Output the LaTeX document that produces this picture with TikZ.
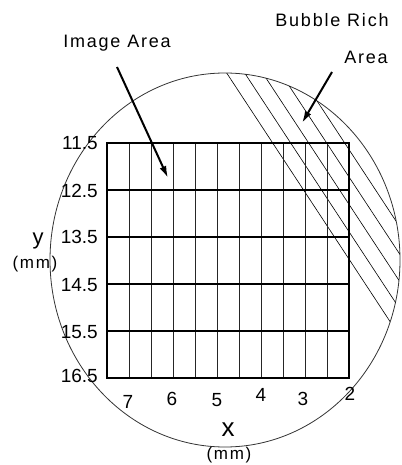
\documentclass[tikz,border=0pt]{standalone}
\usepackage{fontspec}
\setmainfont{Liberation Sans}
\newfontfamily\spacedfont{Liberation Sans}[LetterSpace=10]
\usetikzlibrary{arrows.meta}

\begin{document}
\begin{tikzpicture}[
  x=1pt,y=-1pt,
  every node/.style={inner sep=0pt},
  caption/.style={font=\spacedfont\fontsize{18}{20}\selectfont,anchor=base},
  ticklabel/.style={font=\fontsize{19}{21}\selectfont},
  axisname/.style={font=\fontsize{22}{24}\selectfont},
  unitlabel/.style={font=\spacedfont\fontsize{17}{20}\selectfont},
  wafer/.style={line width=0.8pt,black!80},
  gridline/.style={line width=0.7pt,black!85},
  rowline/.style={line width=1.3pt},
  hatch/.style={line width=0.6pt},
  pointer/.style={-{Latex[length=12pt,width=7pt]},line width=2pt}
]
\useasboundingbox (0,0) rectangle (401,465);

% Wafer outline
\draw[wafer] (225,260) ellipse [x radius=175pt,y radius=187pt];

% --- Bubble rich hatching ---
\begin{scope}
  \clip (225,260) ellipse [x radius=175pt,y radius=187pt];
  \foreach \k in {0,...,4}
    \draw[hatch] ({157+18*\k},-33) -- ({437+18*\k},393);
\end{scope}

% --- Image area grid ---
\foreach \gx in {129,151,...,327}
  \draw[gridline] (\gx,143) -- (\gx,378);
\foreach \gy in {190,237,284,331}
  \draw[rowline] (107,\gy) -- (349,\gy);
\draw[line width=1.2pt] (107,143) rectangle (349,378);

% --- y axis labels ---
\node[ticklabel,anchor=east] (y115) at (98,143) {11.5};
\node[ticklabel,anchor=east] (y125) at (98,191) {12.5};
\node[ticklabel,anchor=east] (y135) at (98,237) {13.5};
\node[ticklabel,anchor=east] (y145) at (98,285) {14.5};
\node[ticklabel,anchor=east] (y155) at (98,332) {15.5};
\node[ticklabel,anchor=east] (y165) at (98,376) {16.5};
\node[axisname] (ylbl) at (38,241) {y};
\node[unitlabel] (yunit) at (35,264) {(mm)};

% --- x axis labels ---
\node[ticklabel] (x7) at (128,402) {7};
\node[ticklabel] (x6) at (172,399) {6};
\node[ticklabel] (x5) at (217,400) {5};
\node[ticklabel] (x4) at (261,395) {4};
\node[ticklabel] (x3) at (303,399) {3};
\node[ticklabel] (x2) at (350,394) {2};
\node[axisname,font=\fontsize{26}{28}\selectfont] (xlbl) at (228,430) {x};
\node[unitlabel] (xunit) at (229,455) {(mm)};

% --- Captions and pointers ---
\node[caption] (imglbl) at (117,48) {Image Area};
\node[caption] (bubblelbl) at (332,27) {Bubble Rich};
\node[caption] (arealbl) at (366,64) {Area};

\coordinate (imgtail) at (117,67);
\coordinate (imgtip) at (168,178);
\draw[pointer] (imgtail) -- (imgtip);

\coordinate (bubbletail) at (332,72);
\coordinate (bubbletip) at (302,123);
\draw[pointer] (bubbletail) -- (bubbletip);
\end{tikzpicture}
\end{document}
